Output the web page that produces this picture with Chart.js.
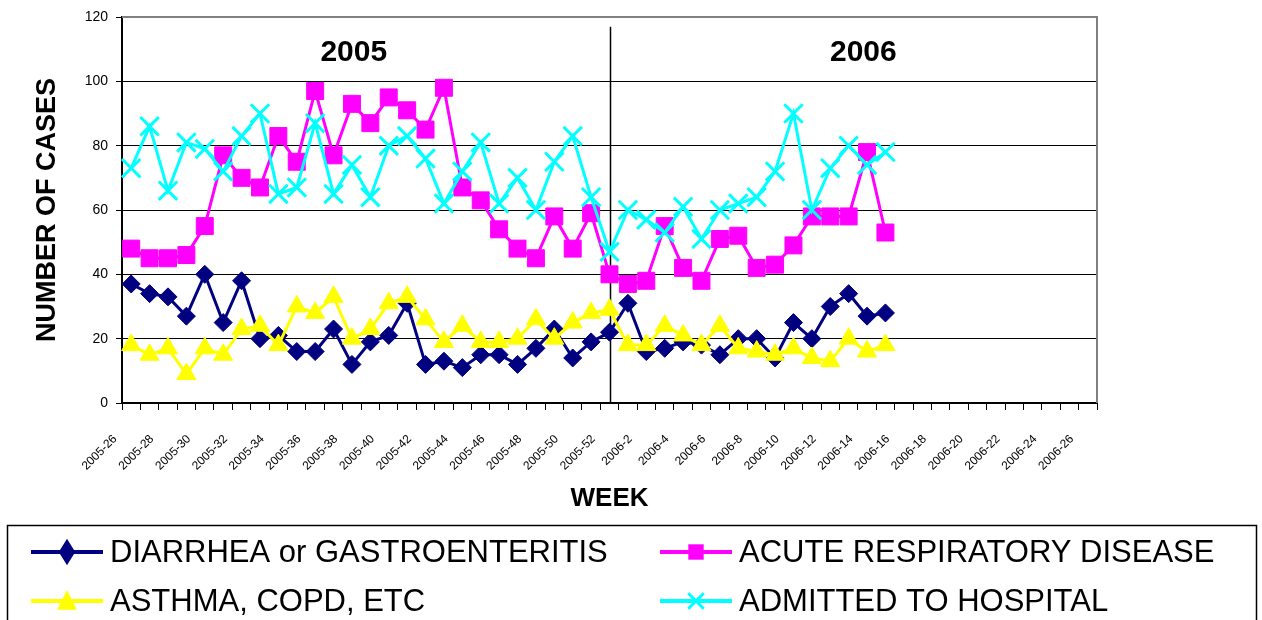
<!DOCTYPE html>
<html>
<head>
<meta charset="utf-8">
<script src="https://cdn.jsdelivr.net/npm/chart.js"></script>
<style>
  html, body { margin: 0; padding: 0; background: #fff; }
  #wrap { width: 1262px; height: 620px; }
</style>
</head>
<body>
<div id="wrap"><canvas id="chart" width="1262" height="620"></canvas></div>
<script>
// ---- DATA ----
const weeks = [
  '2005-26', '2005-27', '2005-28', '2005-29', '2005-30', '2005-31', '2005-32', '2005-33', '2005-34',
  '2005-35', '2005-36', '2005-37', '2005-38', '2005-39', '2005-40', '2005-41', '2005-42', '2005-43',
  '2005-44', '2005-45', '2005-46', '2005-47', '2005-48', '2005-49', '2005-50', '2005-51', '2005-52',
  '2006-1', '2006-2', '2006-3', '2006-4', '2006-5', '2006-6', '2006-7', '2006-8', '2006-9',
  '2006-10', '2006-11', '2006-12', '2006-13', '2006-14', '2006-15', '2006-16', '2006-17', '2006-18',
  '2006-19', '2006-20', '2006-21', '2006-22', '2006-23', '2006-24', '2006-25', '2006-26'
];

const diarrhea = [37, 34, 33, 27, 40, 25, 38, 20, 21, 16, 16, 23, 12, 19, 21, 31, 12, 13, 11, 15, 15,
  12, 17, 23, 14, 19, 22, 31, 16, 17, 19, 18, 15, 20, 20, 14, 25, 20, 30, 34, 27, 28];
const respiratory = [48, 45, 45, 46, 55, 77, 70, 67, 83, 75, 97, 77, 93, 87, 95, 91, 85, 98, 67, 63, 54,
  48, 45, 58, 48, 59, 40, 37, 38, 55, 42, 38, 51, 52, 42, 43, 49, 58, 58, 58, 78, 53];
const asthma = [18, 15, 17, 9, 17, 15, 23, 24, 18, 30, 28, 33, 20, 23, 31, 33, 26, 19, 24, 19, 19,
  20, 26, 20, 25, 28, 29, 18, 18, 24, 21, 18, 24, 17, 16, 15, 17, 14, 13, 20, 16, 18];
const admitted = [73, 86, 66, 81, 79, 72, 83, 90, 65, 67, 87, 65, 74, 64, 80, 83, 76, 62, 72, 81, 62,
  70, 60, 75, 83, 64, 47, 60, 57, 53, 61, 51, 60, 62, 64, 72, 90, 60, 73, 80, 74, 78];

const yTicks = [0, 20, 40, 60, 80, 100, 120];
const yearLabels = ['2005', '2006'];
const yearSplitWeek = '2005-52';

const FONT = "'Liberation Sans', Arial, sans-serif";

// ---- SERIES STYLE ----
function series(label, data, color, style, radius, order) {
  return {
    label, data, order,
    borderColor: color,
    backgroundColor: color,
    borderWidth: 3,
    tension: 0,
    pointStyle: style,
    pointRadius: radius,
    pointBorderWidth: style === 'crossRot' ? 3 : 1,
    pointBackgroundColor: color,
    pointBorderColor: color
  };
}

const datasets = [
  series('DIARRHEA or GASTROENTERITIS', diarrhea, '#000080', 'rectRot', 9, 3),
  series('ACUTE RESPIRATORY DISEASE', respiratory, '#FF00FF', 'rect', 12, 2),
  series('ASTHMA, COPD, ETC', asthma, '#FFFF00', 'triangle', 11, 1),
  series('ADMITTED TO HOSPITAL', admitted, '#00FFFF', 'crossRot', 13, 0)
];

// ---- MARKER (legend) ----
function drawMarker(ctx, style, x, y, r, color) {
  ctx.save();
  ctx.fillStyle = color;
  ctx.strokeStyle = color;
  ctx.beginPath();
  if (style === 'rectRot') {
    ctx.moveTo(x, y - r * 1.2); ctx.lineTo(x + r * 0.75, y); ctx.lineTo(x, y + r * 1.2); ctx.lineTo(x - r * 0.75, y);
    ctx.closePath(); ctx.fill();
  } else if (style === 'rect') {
    const s = r * 0.7;
    ctx.rect(x - s, y - s, 2 * s, 2 * s); ctx.fill();
  } else if (style === 'triangle') {
    ctx.moveTo(x, y - r); ctx.lineTo(x + r * 0.9, y + r * 0.8); ctx.lineTo(x - r * 0.9, y + r * 0.8);
    ctx.closePath(); ctx.fill();
  } else if (style === 'crossRot') {
    const o = r * 0.7;
    ctx.lineWidth = 3;
    ctx.moveTo(x - o, y - o); ctx.lineTo(x + o, y + o);
    ctx.moveTo(x + o, y - o); ctx.lineTo(x - o, y + o);
    ctx.stroke();
  }
  ctx.restore();
}

// ---- PLUGIN: years, separator, frame, legend ----
const decorPlugin = {
  id: 'decor',
  beforeDatasetsDraw(chart) {
    const { ctx, chartArea, scales: { x, y } } = chart;
    ctx.save();
    // plot-area frame (top + right)
    ctx.strokeStyle = '#808080';
    ctx.lineWidth = 2;
    ctx.beginPath();
    ctx.moveTo(chartArea.left, chartArea.top);
    ctx.lineTo(chartArea.right, chartArea.top);
    ctx.lineTo(chartArea.right, chartArea.bottom);
    ctx.stroke();
    // separator between the years
    const sx = Math.round(x.getPixelForValue(weeks.indexOf(yearSplitWeek))) + 0.5;
    ctx.strokeStyle = '#000';
    ctx.lineWidth = 1.5;
    ctx.beginPath();
    ctx.moveTo(sx, y.getPixelForValue(117));
    ctx.lineTo(sx, chartArea.bottom);
    ctx.stroke();
    // year captions
    ctx.fillStyle = '#000';
    ctx.font = 'bold 30px ' + FONT;
    ctx.textAlign = 'center';
    ctx.textBaseline = 'middle';
    ctx.fillText(yearLabels[0], x.getPixelForValue(12.1), y.getPixelForValue(109));
    ctx.fillText(yearLabels[1], x.getPixelForValue(39.8), y.getPixelForValue(109));
    ctx.restore();
  },
  afterDraw(chart) {
    const { ctx } = chart;
    ctx.save();
    // legend box
    ctx.strokeStyle = '#000';
    ctx.lineWidth = 1.5;
    ctx.strokeRect(7.5, 525.5, 1249, 120);
    const cols = [31, 660];
    const rows = [552, 601];
    ctx.font = '31px ' + FONT;
    ctx.textBaseline = 'middle';
    ctx.textAlign = 'left';
    chart.data.datasets.forEach((ds, i) => {
      const lx = cols[i % 2];
      const ly = rows[Math.floor(i / 2)];
      ctx.strokeStyle = ds.borderColor;
      ctx.lineWidth = 4;
      ctx.beginPath();
      ctx.moveTo(lx, ly);
      ctx.lineTo(lx + 72, ly);
      ctx.stroke();
      drawMarker(ctx, ds.pointStyle, lx + 36, ly, 11, ds.borderColor);
      ctx.fillStyle = '#000';
      ctx.fillText(ds.label, lx + 79, ly + 1);
    });
    ctx.restore();
  }
};

// ---- CHART ----
new Chart(document.getElementById('chart'), {
  type: 'line',
  data: { labels: weeks, datasets },
  options: {
    responsive: false,
    animation: false,
    devicePixelRatio: 1,
    layout: { padding: { left: 0, top: 17, right: 165, bottom: 100 } },
    plugins: {
      legend: { display: false },
      tooltip: { enabled: false }
    },
    scales: {
      x: {
        type: 'category',
        offset: true,
        grid: { offset: true, drawOnChartArea: false, drawTicks: true, tickLength: 7, color: '#000', lineWidth: 1 },
        border: { color: '#000', width: 2 },
        ticks: {
          autoSkip: false,
          maxRotation: 45,
          minRotation: 45,
          padding: 22,
          labelOffset: -16,
          color: '#000',
          font: { family: FONT, size: 12 },
          callback: function (val, idx) { return idx % 2 === 0 ? this.getLabelForValue(val) : ''; }
        },
        title: {
          display: true,
          text: 'WEEK',
          color: '#000',
          font: { family: FONT, size: 26, weight: 'bold' },
          padding: { top: 0, bottom: 6 }
        },
        afterFit(scale) { scale.height = 117; }
      },
      y: {
        min: yTicks[0],
        max: yTicks[yTicks.length - 1],
        afterBuildTicks(scale) { scale.ticks = yTicks.map(v => ({ value: v })); },
        grid: { color: '#000', lineWidth: 1, tickLength: 6 },
        border: { color: '#000', width: 2 },
        ticks: { color: '#000', padding: 8, font: { family: FONT, size: 14 } },
        title: {
          display: true,
          text: 'NUMBER OF CASES',
          color: '#000',
          font: { family: FONT, size: 27, weight: 'bold' },
          padding: { top: 31, bottom: 0 }
        },
        afterFit(scale) { scale.width = 122; }
      }
    }
  },
  plugins: [decorPlugin]
});
</script>
</body>
</html>
